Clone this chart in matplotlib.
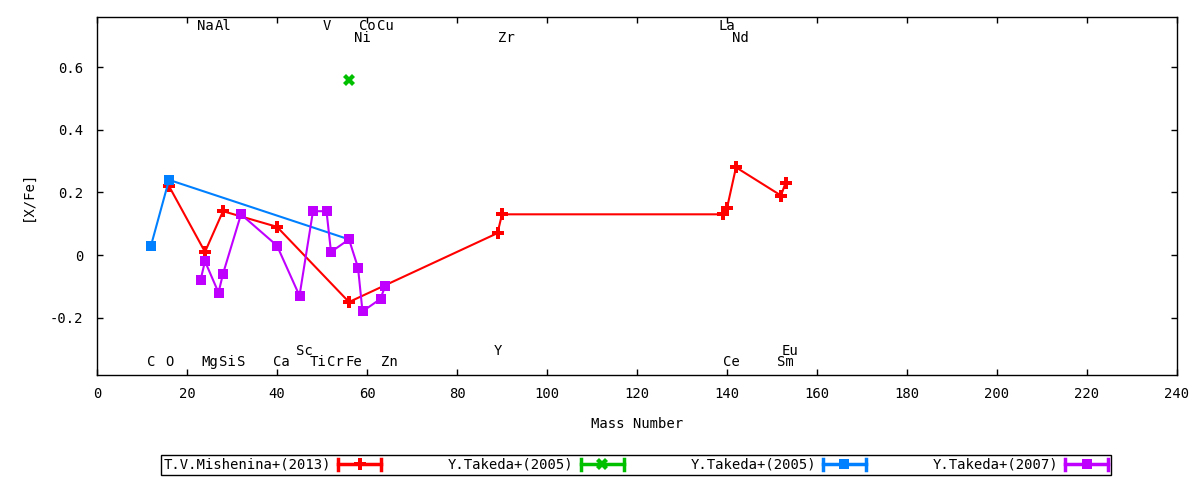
import matplotlib
matplotlib.use("Agg")
import matplotlib.pyplot as plt
from matplotlib.legend_handler import HandlerBase
from matplotlib.lines import Line2D

# ---- data ----
mish_mass = [16, 24, 28, 40, 56, 89, 90, 139, 140, 142, 152, 153]
mish_xfe = [0.22, 0.01, 0.14, 0.09, -0.15, 0.07, 0.13, 0.13, 0.15, 0.28, 0.19, 0.23]

tak05a_mass = [56]
tak05a_xfe = [0.56]

tak05b_mass = [12, 16, 56]
tak05b_xfe = [0.03, 0.24, 0.05]

tak07_mass = [23, 24, 27, 28, 32, 40, 45, 48, 51, 52, 56, 58, 59, 63, 64]
tak07_xfe = [-0.08, -0.02, -0.12, -0.06, 0.13, 0.03, -0.13, 0.14, 0.14, 0.01, 0.05, -0.04, -0.18, -0.14, -0.10]

series_labels = ["T.V.Mishenina+(2013)", "Y.Takeda+(2005)", "Y.Takeda+(2005)", "Y.Takeda+(2007)"]

# element labels: name, mass, row (0 top, 1 top-lower, 2 bottom-upper, 3 bottom)
elem_names = ["C", "O", "Na", "Mg", "Al", "Si", "S", "Ca", "Sc", "Ti", "V", "Cr", "Fe",
              "Co", "Ni", "Cu", "Zn", "Y", "Zr", "La", "Ce", "Nd", "Sm", "Eu"]
elem_mass = [12, 16, 23, 24, 27, 28, 32, 40, 45, 48, 51, 52, 56,
             59, 58, 63, 64, 89, 90, 139, 140, 142, 152, 153]
elem_row = [3, 3, 0, 3, 0, 3, 3, 3, 2, 3, 0, 3, 3,
            0, 1, 0, 3, 2, 1, 0, 3, 1, 3, 2]
row_y = [0.731, 0.694, -0.305, -0.343]

FONT = "DejaVu Sans Mono"
plt.rcParams["font.family"] = FONT
plt.rcParams["font.size"] = 10

fig = plt.figure(figsize=(12, 4.8), dpi=100)
ax = fig.add_axes([97 / 1200, 1 - 375 / 480, 1080 / 1200, 358 / 480])

styles = [
    dict(color="#ff0000", marker="P", ms=8),
    dict(color="#00c000", marker="X", ms=8),
    dict(color="#0080ff", marker="s", ms=7.5),
    dict(color="#c000ff", marker="s", ms=7.5),
]
data = [(mish_mass, mish_xfe), (tak05a_mass, tak05a_xfe), (tak05b_mass, tak05b_xfe), (tak07_mass, tak07_xfe)]
handles = []
for (xs, ys), st, lab in zip(data, styles, series_labels):
    ln, = ax.plot(xs, ys, color=st["color"], marker=st["marker"], markersize=st["ms"],
                  markeredgewidth=0, lw=1.5, label=lab)
    handles.append(ln)

for name, m, r in zip(elem_names, elem_mass, elem_row):
    ax.text(m - 0.8, row_y[r], name, ha="left", va="center", fontsize=10)

ax.set_xlim(0, 240)
ax.set_ylim(-0.383, 0.76)
ax.set_xticks(range(0, 241, 20))
ax.set_yticks([-0.2, 0, 0.2, 0.4, 0.6])
ax.set_yticklabels(["-0.2", "0", "0.2", "0.4", "0.6"])
ax.tick_params(direction="in", top=True, right=True, length=4, width=1, labelsize=10)
ax.tick_params(axis="x", pad=9)
ax.tick_params(axis="y", pad=10)
for s in ax.spines.values():
    s.set_linewidth(1)
ax.set_xlabel("Mass Number", fontsize=10, labelpad=11)
ax.set_ylabel("[X/Fe]", fontsize=10, labelpad=11)


class CapHandler(HandlerBase):
    def create_artists(self, legend, orig_handle, xdescent, ydescent, width, height, fontsize, trans):
        c = orig_handle.get_color()
        y = height / 2 - ydescent
        x0, x1 = -xdescent, width - xdescent
        line = Line2D([x0, x1], [y, y], color=c, lw=2.5)
        cap0 = Line2D([x0, x0], [y - 4, y + 4], color=c, lw=2.5)
        cap1 = Line2D([x1, x1], [y - 4, y + 4], color=c, lw=2.5)
        mk = Line2D([(x0 + x1) / 2], [y], color=c, marker=orig_handle.get_marker(),
                    markersize=orig_handle.get_markersize(), markeredgewidth=0, lw=0)
        for a in (line, cap0, cap1, mk):
            a.set_transform(trans)
        return [line, cap0, cap1, mk]


leg = fig.legend(handles=handles, loc="center", bbox_to_anchor=(636 / 1200, 1 - 465 / 480),
                 ncol=4, markerfirst=False, handler_map={Line2D: CapHandler()},
                 frameon=True, fancybox=False, edgecolor="black", framealpha=1,
                 handlelength=3.1, handletextpad=0.5, columnspacing=4.8,
                 borderpad=0.2, borderaxespad=0, fontsize=10)
leg.get_frame().set_linewidth(1)

fig.savefig("out.png", dpi=100)
